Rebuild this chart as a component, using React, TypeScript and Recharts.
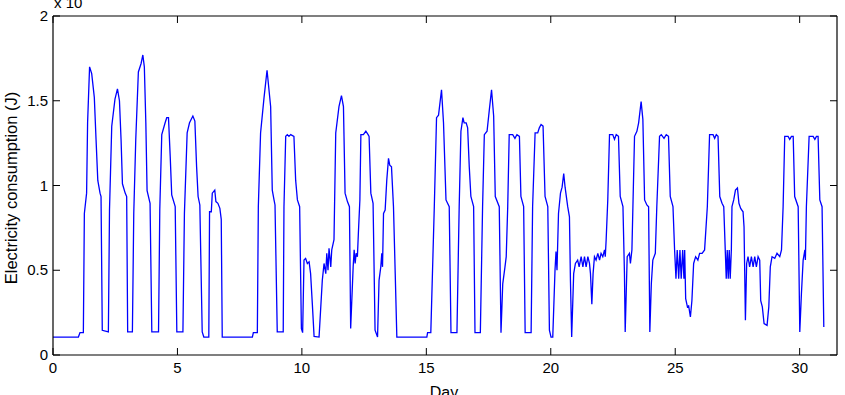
import { LineChart, Line, XAxis, YAxis } from 'recharts';

// Day of month (x) and electricity consumption (y, in units of the x10 multiplier)
const days = [
  0, 1.02, 1.085, 1.22, 1.26, 1.35, 1.39, 1.47, 1.555, 1.66, 1.73, 1.8, 1.89, 1.93, 1.98,
  2.225, 2.27, 2.36, 2.49, 2.59, 2.67, 2.735, 2.79, 2.9, 2.96, 3.0,
  3.19, 3.245, 3.325, 3.43, 3.54, 3.61, 3.67, 3.73, 3.78, 3.9, 3.97,
  4.24, 4.29, 4.37, 4.505, 4.57, 4.64, 4.71, 4.77, 4.91, 4.975,
  5.22, 5.28, 5.39, 5.485, 5.62, 5.7, 5.77, 5.83, 5.9, 5.995, 6.06,
  6.26, 6.29, 6.36, 6.4, 6.5, 6.545, 6.625, 6.705, 6.76, 6.8,
  8.01, 8.05, 8.21, 8.25, 8.34, 8.48, 8.6, 8.745, 8.81, 8.88, 8.92, 9.01,
  9.25, 9.28, 9.35, 9.415, 9.48, 9.55, 9.68, 9.75, 9.82, 9.91, 9.98, 10.03,
  10.085, 10.15, 10.22, 10.29, 10.35, 10.42, 10.49, 10.69,
  10.82, 10.89, 10.96, 11.0, 11.05, 11.09, 11.16, 11.2, 11.29, 11.36, 11.49, 11.59, 11.67,
  11.735, 11.83, 11.91, 11.96, 12.06, 12.1, 12.14, 12.18, 12.23, 12.27, 12.33, 12.37,
  12.47, 12.57, 12.66, 12.7, 12.77, 12.86, 12.94, 13.04, 13.1, 13.17, 13.21, 13.24,
  13.28, 13.345, 13.41, 13.48, 13.53, 13.6, 13.68, 13.75, 13.815,
  15.02, 15.05, 15.18, 15.32, 15.41, 15.49, 15.61, 15.69, 15.79, 15.92, 15.99,
  16.23, 16.32, 16.39, 16.47, 16.52, 16.6, 16.66, 16.725, 16.79, 16.9, 16.955,
  17.17, 17.26, 17.33, 17.44, 17.53, 17.62, 17.705, 17.77, 17.93, 18.0,
  18.07, 18.16, 18.21, 18.27, 18.33, 18.47, 18.56, 18.64, 18.74, 18.8, 18.91, 18.97,
  19.21, 19.27, 19.37, 19.475, 19.54, 19.61, 19.69, 19.77, 19.88, 19.945, 20.01,
  20.08, 20.17, 20.21, 20.25, 20.31, 20.39, 20.455, 20.52, 20.575, 20.68, 20.75, 20.79, 20.84,
  20.92, 20.99, 21.08, 21.14, 21.22, 21.29, 21.355, 21.42, 21.49, 21.555, 21.595, 21.65, 21.7,
  21.755, 21.82, 21.89, 21.96, 22.02, 22.09, 22.16, 22.19, 22.225, 22.29, 22.36,
  22.49, 22.56, 22.63, 22.72, 22.79, 22.9, 22.96, 22.99,
  23.07, 23.16, 23.2, 23.26, 23.3, 23.365, 23.46, 23.53, 23.63, 23.7, 23.77, 23.86, 23.93, 23.98,
  24.04, 24.1, 24.2, 24.26, 24.37, 24.44, 24.55, 24.64, 24.73, 24.8, 24.91, 24.975,
  25.03, 25.08, 25.14, 25.19, 25.24, 25.3, 25.35, 25.38, 25.42, 25.49, 25.54, 25.61, 25.67,
  25.74, 25.82, 25.91, 25.98, 26.08, 26.18, 26.29, 26.38, 26.52, 26.585, 26.65, 26.72,
  26.79, 26.88, 26.95, 27.01, 27.05, 27.09, 27.13, 27.17, 27.21, 27.255,
  27.28, 27.35, 27.42, 27.5, 27.56, 27.63, 27.725, 27.765, 27.82,
  27.87, 27.925, 27.99, 28.06, 28.13, 28.195, 28.26, 28.33, 28.395,
  28.435, 28.5, 28.57, 28.69, 28.76, 28.82, 28.89, 29.0, 29.09, 29.2, 29.27,
  29.335, 29.4, 29.535, 29.6, 29.67, 29.74, 29.8, 29.94, 30.005,
  30.07, 30.14, 30.21, 30.23, 30.27, 30.38, 30.54, 30.61, 30.675, 30.74, 30.81, 30.9, 30.97,
];

const consumption = [
  0.106, 0.106, 0.132, 0.132, 0.835, 0.955, 1.37, 1.7, 1.66, 1.52, 1.27, 1.03, 0.955, 0.935, 0.146,
  0.136, 0.855, 1.35, 1.51, 1.57, 1.5, 1.27, 1.01, 0.955, 0.935, 0.136,
  0.136, 0.835, 1.27, 1.67, 1.72, 1.77, 1.7, 1.37, 0.97, 0.895, 0.136,
  0.136, 0.855, 1.3, 1.37, 1.4, 1.4, 1.17, 0.945, 0.875, 0.136,
  0.136, 0.835, 1.31, 1.37, 1.41, 1.38, 1.11, 0.935, 0.885, 0.136, 0.106,
  0.106, 0.845, 0.845, 0.955, 0.973, 0.905, 0.895, 0.865, 0.8, 0.106,
  0.106, 0.132, 0.132, 0.875, 1.31, 1.52, 1.68, 1.465, 0.973, 0.915, 0.885, 0.136,
  0.136, 0.875, 1.29, 1.3, 1.29, 1.3, 1.29, 1.03, 0.915, 0.875, 0.156, 0.132,
  0.56, 0.57, 0.54, 0.55, 0.48, 0.3, 0.11, 0.106,
  0.44, 0.54, 0.48, 0.6, 0.5, 0.63, 0.52, 0.62, 0.68, 1.31, 1.465, 1.53, 1.465,
  0.955, 0.905, 0.875, 0.156, 0.52, 0.62, 0.54, 0.6, 0.58, 0.72, 0.915, 1.3,
  1.3, 1.32, 1.3, 1.29, 0.955, 0.895, 0.146, 0.106, 0.44, 0.52, 0.6, 0.52,
  0.835, 0.855, 1.03, 1.16, 1.12, 1.11, 0.875, 0.48, 0.106,
  0.106, 0.132, 0.132, 0.875, 1.4, 1.415, 1.565, 1.37, 0.915, 0.875, 0.132,
  0.132, 0.875, 1.32, 1.4, 1.37, 1.37, 1.34, 1.11, 0.935, 0.875, 0.132,
  0.132, 0.875, 1.3, 1.32, 1.445, 1.565, 1.41, 0.935, 0.875, 0.132,
  0.42, 0.52, 0.58, 0.875, 1.3, 1.3, 1.278, 1.3, 1.29, 0.935, 0.875, 0.132,
  0.132, 0.875, 1.31, 1.31, 1.34, 1.36, 1.35, 0.935, 0.875, 0.146, 0.106,
  0.106, 0.5, 0.61, 0.5, 0.835, 0.955, 0.99, 1.07, 0.99, 0.875, 0.815, 0.44, 0.106,
  0.48, 0.54, 0.56, 0.52, 0.58, 0.52, 0.58, 0.52, 0.58, 0.54, 0.48, 0.3, 0.48,
  0.58, 0.56, 0.6, 0.56, 0.6, 0.58, 0.62, 0.58, 0.68, 0.915, 1.3,
  1.3, 1.272, 1.3, 1.29, 0.935, 0.875, 0.48, 0.136,
  0.58, 0.6, 0.54, 0.62, 0.875, 1.29, 1.32, 1.37, 1.495, 1.39, 0.915, 0.885, 0.875, 0.136,
  0.42, 0.56, 0.6, 0.875, 1.29, 1.3, 1.278, 1.3, 1.29, 0.935, 0.875, 0.62,
  0.45, 0.62, 0.45, 0.62, 0.45, 0.62, 0.45, 0.62, 0.333, 0.284, 0.29, 0.225, 0.32,
  0.54, 0.58, 0.56, 0.6, 0.6, 0.62, 0.875, 1.3, 1.3, 1.278, 1.3, 1.29,
  0.935, 0.895, 0.875, 0.62, 0.45, 0.62, 0.45, 0.62, 0.45, 0.62,
  0.875, 0.915, 0.973, 0.985, 0.895, 0.865, 0.845, 0.756, 0.205,
  0.54, 0.58, 0.52, 0.58, 0.52, 0.58, 0.52, 0.58, 0.56,
  0.32, 0.284, 0.185, 0.175, 0.284, 0.52, 0.58, 0.57, 0.6, 0.58, 0.62,
  0.875, 1.29, 1.29, 1.272, 1.29, 1.29, 0.935, 0.875, 0.136,
  0.36, 0.56, 0.62, 0.56, 0.875, 1.29, 1.29, 1.272, 1.29, 1.29, 0.915, 0.875, 0.165,
];

const dayTicks = [0, 5, 10, 15, 20, 25, 30];
const valueTicks = [0, 0.5, 1, 1.5, 2];

const data = days.map((day, i) => ({ day, value: consumption[i] }));

const FONT = '"Liberation Sans", Arial, Helvetica, sans-serif';
const TICK_LEN = 7;

// MATLAB-style ticks point into the plot box
const BottomTick = ({ x, y, payload }: any) => (
  <g>
    <line x1={x} x2={x} y1={y} y2={y - TICK_LEN} stroke="#000" />
    <text x={x} y={y + 18} textAnchor="middle" fontSize={15} fontFamily={FONT} fill="#000">
      {payload.value}
    </text>
  </g>
);

const TopTick = ({ x, y }: any) => (
  <line x1={x} x2={x} y1={y} y2={y + TICK_LEN} stroke="#000" />
);

const LeftTick = ({ x, y, payload }: any) => (
  <g>
    <line x1={x} x2={x + TICK_LEN} y1={y} y2={y} stroke="#000" />
    <text x={x - 5} y={y + 5} textAnchor="end" fontSize={15} fontFamily={FONT} fill="#000">
      {payload.value}
    </text>
  </g>
);

const RightTick = ({ x, y }: any) => (
  <line x1={x} x2={x - TICK_LEN} y1={y} y2={y} stroke="#000" />
);

const axisLine = { stroke: '#000', strokeWidth: 1.2 };

export default function App() {
  return (
    <div style={{ position: 'absolute', left: 0, top: 0, background: '#fff' }}>
      <LineChart
        width={845}
        height={395}
        data={data}
        margin={{ top: 15, right: 7, left: 0, bottom: 0 }}
      >
        <XAxis
          dataKey="day"
          type="number"
          domain={[0, 31.5]}
          ticks={dayTicks}
          allowDataOverflow
          height={40}
          tickSize={0}
          tickMargin={0}
          tickLine={false}
          tick={<BottomTick />}
          axisLine={axisLine}
          label={{
            content: () => (
              <text x={444} y={398} textAnchor="middle" fontSize={16} fontFamily={FONT} fill="#000">
                Day
              </text>
            ),
          }}
        />
        <XAxis
          xAxisId="top"
          dataKey="day"
          type="number"
          orientation="top"
          domain={[0, 31.5]}
          ticks={dayTicks}
          allowDataOverflow
          height={1}
          tickSize={0}
          tickMargin={0}
          tickLine={false}
          tick={<TopTick />}
          axisLine={axisLine}
          label={{
            content: () => (
              <text x={54} y={8} fontSize={15} fontFamily={FONT} fill="#000">
                x 10
              </text>
            ),
          }}
        />
        <YAxis
          type="number"
          domain={[0, 2]}
          ticks={valueTicks}
          allowDataOverflow
          width={53}
          tickSize={0}
          tickMargin={0}
          tickLine={false}
          tick={<LeftTick />}
          axisLine={axisLine}
          label={{
            content: () => (
              <text
                x={17}
                y={188}
                transform="rotate(-90, 17, 188)"
                textAnchor="middle"
                fontSize={16.5}
                fontFamily={FONT}
                fill="#000"
              >
                Electricity consumption (J)
              </text>
            ),
          }}
        />
        <YAxis
          yAxisId="right"
          orientation="right"
          type="number"
          domain={[0, 2]}
          ticks={valueTicks}
          allowDataOverflow
          width={1}
          tickSize={0}
          tickMargin={0}
          tickLine={false}
          tick={<RightTick />}
          axisLine={axisLine}
        />
        <Line
          type="linear"
          dataKey="value"
          stroke="#0000ff"
          strokeWidth={1.3}
          dot={false}
          isAnimationActive={false}
        />
      </LineChart>
    </div>
  );
}
